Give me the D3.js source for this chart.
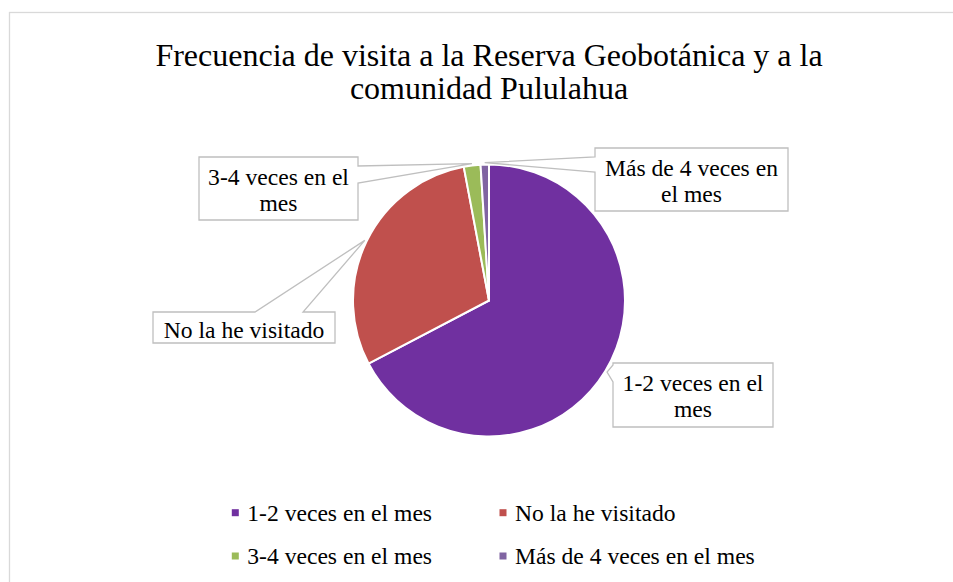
<!DOCTYPE html>
<html>
<head>
<meta charset="utf-8">
<script src="https://cdn.jsdelivr.net/npm/d3@7"></script>
<style>
  body { margin: 0; background: #fff; }
  text { font-family: "Liberation Serif", "Times New Roman", serif; fill: #000; }
</style>
</head>
<body>
<div id="chart"></div>
<script>
// Data
var categories = ["1-2 veces en el mes", "No la he visitado", "3-4 veces en el mes", "Más de 4 veces en el mes"];
var values = [68, 30, 2, 1];
var colors = ["#7030A0", "#C0504D", "#9BBB59", "#8064A2"];
var labelLines = [["1-2 veces en el", "mes"], ["No la he visitado"], ["3-4 veces en el", "mes"], ["Más de 4 veces en", "el mes"]];
var titleLines = ["Frecuencia de visita a la Reserva Geobotánica y a la", "comunidad Pululahua"];

// SVG area
var svgWidth = 953;
var svgHeight = 582;
var cx = 489, cy = 300.5, radius = 136;

var svg = d3.select("#chart")
  .append("svg")
  .attr("width", svgWidth)
  .attr("height", svgHeight);

// chart area border (runs off the right and bottom)
svg.append("rect")
  .attr("x", 9.5)
  .attr("y", 12.5)
  .attr("width", 1000)
  .attr("height", 1000)
  .attr("fill", "#fff")
  .attr("stroke", "#D9D9D9")
  .attr("stroke-width", 1.3);

// Title
svg.append("text")
  .attr("text-anchor", "middle")
  .attr("font-size", "32px")
  .selectAll("tspan")
  .data(titleLines)
  .enter()
  .append("tspan")
  .attr("x", 489)
  .attr("y", (d, i) => 66 + i * 33)
  .text(d => d);

// Pie
var pie = d3.pie().sort(null).value(d => d);
var arcs = pie(values);
var arc = d3.arc().innerRadius(0).outerRadius(radius);
var tipArc = d3.arc().innerRadius(radius + 2).outerRadius(radius + 2);

var pieGroup = svg.append("g")
  .attr("transform", `translate(${cx}, ${cy})`);

pieGroup.selectAll("path")
  .data(arcs)
  .enter()
  .append("path")
  .attr("d", arc)
  .attr("fill", (d, i) => colors[i])
  .attr("stroke", "#fff")
  .attr("stroke-width", 2)
  .attr("stroke-linejoin", "round");

// Callout boxes: box position/size and where the pointer leaves the box
var boxes = [
  { x: 613, y: 363, w: 160, h: 64, side: "left", b1: 365, b2: 382 },
  { x: 153, y: 312, w: 182, h: 31, side: "top", b1: 255, b2: 303 },
  { x: 199, y: 157, w: 159, h: 63, side: "right", b1: 166, b2: 183 },
  { x: 595, y: 148, w: 193, h: 63, side: "left", b1: 157, b2: 172 }
];

function calloutPath(b, t) {
  var x = b.x, y = b.y, w = b.w, h = b.h;
  if (b.side == "left") {
    return `M${x},${y}H${x + w}V${y + h}H${x}V${b.b2}L${t[0]},${t[1]}L${x},${b.b1}Z`;
  }
  if (b.side == "right") {
    return `M${x},${y}H${x + w}V${b.b1}L${t[0]},${t[1]}L${x + w},${b.b2}V${y + h}H${x}Z`;
  }
  return `M${x},${y}H${b.b1}L${t[0]},${t[1]}L${b.b2},${y}H${x + w}V${y + h}H${x}Z`;
}

var callouts = svg.selectAll("g.callout")
  .data(arcs)
  .enter()
  .append("g")
  .attr("class", "callout");

callouts.append("path")
  .attr("d", function(d, i) {
    var c = tipArc.centroid(d);
    return calloutPath(boxes[i], [cx + c[0], cy + c[1]]);
  })
  .attr("fill", "#fff")
  .attr("stroke", "#BFBFBF")
  .attr("stroke-width", 1.3)
  .attr("stroke-linejoin", "miter");

callouts.append("text")
  .attr("text-anchor", "middle")
  .attr("font-size", "23.6px")
  .each(function(d, i) {
    var b = boxes[i];
    var lines = labelLines[i];
    d3.select(this).selectAll("tspan")
      .data(lines)
      .enter()
      .append("tspan")
      .attr("x", b.x + b.w / 2)
      .attr("y", (l, j) => (lines.length == 1 ? b.y + 25.5 : b.y + 28 + j * 26))
      .text(l => l);
  });

// Legend (2 columns x 2 rows)
var legendX = [235.3, 503];
var legendY = [512.7, 556];

var legend = svg.selectAll("g.legend")
  .data(categories)
  .enter()
  .append("g")
  .attr("class", "legend")
  .attr("transform", (d, i) => `translate(${legendX[i % 2]}, ${legendY[Math.floor(i / 2)]})`);

legend.append("rect")
  .attr("x", -3.5)
  .attr("y", -3.5)
  .attr("width", 7)
  .attr("height", 7)
  .attr("fill", (d, i) => colors[i]);

legend.append("text")
  .attr("x", 12)
  .attr("y", 8.3)
  .attr("font-size", "23.6px")
  .text(d => d);
</script>
</body>
</html>
